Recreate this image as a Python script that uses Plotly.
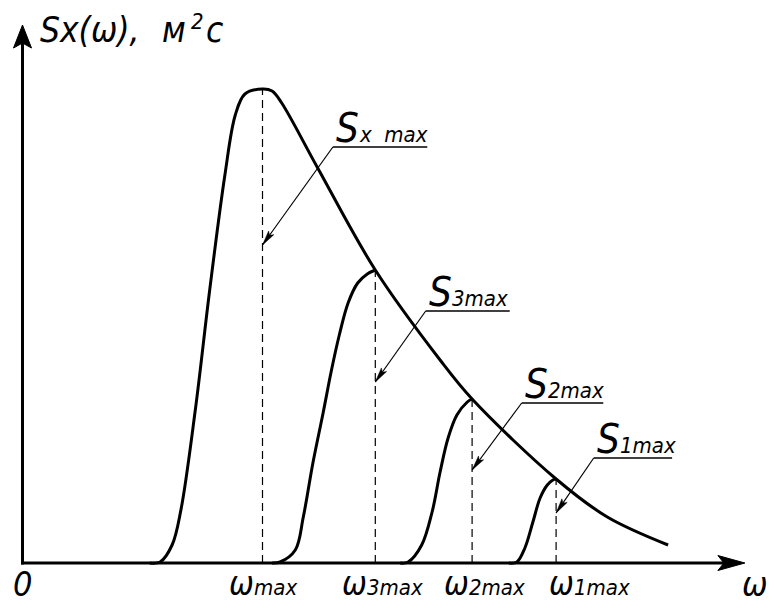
import math
import plotly.graph_objects as go

# Spectral density Sx(ω) of sea waves and its partial spectra S1..S3 (schematic units)
sx_rise_w = [1.59, 1.72, 1.87, 1.98, 2.16, 2.34, 2.53, 2.66, 2.78]
sx_rise_s = [0.00, 0.01, 0.18, 0.53, 1.53, 2.73, 3.88, 4.48, 4.69]

env_w = [3.00, 3.12, 3.24, 3.69, 4.41, 5.22, 5.62, 6.67, 7.31, 8.07]
env_s = [4.74, 4.72, 4.60, 3.95, 2.93, 2.03, 1.64, 0.84, 0.46, 0.18]

s3_w = [3.12, 3.22, 3.41, 3.51, 3.63, 3.76, 3.86, 3.96, 4.07, 4.19, 4.31, 4.41]
s3_s = [0.00, 0.01, 0.13, 0.46, 1.00, 1.51, 1.92, 2.28, 2.60, 2.80, 2.89, 2.93]

s2_w = [4.72, 4.82, 4.99, 5.12, 5.22, 5.32, 5.43, 5.56, 5.62]
s2_s = [0.00, 0.01, 0.18, 0.51, 0.91, 1.25, 1.48, 1.61, 1.64]

s1_w = [6.08, 6.18, 6.28, 6.38, 6.47, 6.56, 6.63, 6.67]
s1_s = [0.00, 0.01, 0.15, 0.41, 0.65, 0.78, 0.83, 0.84]

# peak frequencies / peak values: Sx max, S3max, S2max, S1max
peak_w = [3.00, 4.41, 5.62, 6.67]
peak_s = [4.74, 2.93, 1.64, 0.84]
peak_suffix = ["x  max", "3max", "2max", "1max"]
omega_suffix = ["max", "3max", "2max", "1max"]

# ordinate title pieces: quantity, unit, unit exponent, unit tail
y_title_main = "Sx(ω),"
y_title_unit = "м"
y_title_power = "2"
y_title_tail = "c"

# ---------------- layout / geometry ----------------
W, H = 770, 603
ORIGIN_PX = (22.5, 563.0)     # where ω = 0, S = 0 sits on the page
PX_W = 80.0                   # pixels per ω unit
PX_S = 100.0                  # pixels per S unit
X_RANGE = [-ORIGIN_PX[0] / PX_W, (W - ORIGIN_PX[0]) / PX_W]
Y_RANGE = [-(H - ORIGIN_PX[1]) / PX_S, ORIGIN_PX[1] / PX_S]

W_AXIS_END = 9.03
S_AXIS_END = 5.38

# leader labels: underline start, underline end, underline height, arrow tip height
lab_x0 = [3.88, 5.04, 6.24, 7.14]
lab_x1 = [5.06, 6.09, 7.26, 8.12]
lab_y = [4.16, 2.52, 1.60, 1.05]
tip_s = [3.18, 1.81, 0.93, 0.50]

# left edge of the ω tick labels and their baseline
omega_lab_x = [2.55, 3.97, 5.24, 6.56]
OMEGA_BASELINE = -0.31

# ordinate title placement (left edges in ω units, baselines in S units)
Y_TITLE_BASE = 5.20
Y_TITLE_X = [0.195, 1.72, 2.08, 2.27]
Y_TITLE_POWER_BASE = 5.33

FONT = "DejaVu Sans Condensed, DejaVu Sans, sans-serif"
INK = "#000000"
ASCENT = 0.928    # font ascent as a share of the font size
DESCENT = 0.236   # font descent as a share of the font size


def arrow_path(tx, ty, fx, fy, length, half, notch):
    """Filled, notched arrowhead at (tx, ty) pointing away from (fx, fy); sizes in px."""
    dxp = (tx - fx) * PX_W
    dyp = (ty - fy) * PX_S
    n = math.hypot(dxp, dyp)
    ux, uy = dxp / n, dyp / n
    nx, ny = -uy, ux
    pts = [
        (0.0, 0.0),
        (-ux * length + nx * half, -uy * length + ny * half),
        (-ux * (length - notch), -uy * (length - notch)),
        (-ux * length - nx * half, -uy * length - ny * half),
    ]
    coords = [(tx + a / PX_W, ty + b / PX_S) for a, b in pts]
    return "M " + " L ".join(f"{x:.4f},{y:.4f}" for x, y in coords) + " Z"


def text_on_baseline(x, baseline, text, size, hang=False):
    """Left-aligned italic text whose baseline sits at the given S value.

    With hang=True the box is anchored by its top edge, which keeps the anchor
    point inside the visible range for labels placed under the ω axis."""
    if hang:
        y, anchor = baseline + (1 + ASCENT * size) / PX_S, "top"
    else:
        y, anchor = baseline - (1 + DESCENT * size) / PX_S, "bottom"
    return dict(
        x=x, y=y, xref="x", yref="y",
        xanchor="left", yanchor=anchor, showarrow=False, text=text,
        font=dict(family=FONT, size=size, color=INK, style="italic"))


fig = go.Figure()

curve_style = dict(color=INK, width=3, shape="spline", smoothing=1.0)

# main spectrum with its envelope
fig.add_trace(go.Scatter(x=sx_rise_w + env_w, y=sx_rise_s + env_s, mode="lines",
                         line=curve_style, hoverinfo="skip"))
for ws, ss in [(s3_w, s3_s), (s2_w, s2_s), (s1_w, s1_s)]:
    fig.add_trace(go.Scatter(x=ws, y=ss, mode="lines", line=curve_style, hoverinfo="skip"))

shapes = []

# axes
shapes.append(dict(type="line", xref="x", yref="y", x0=-1.5 / PX_W, y0=0,
                   x1=W_AXIS_END - 20 / PX_W, y1=0, line=dict(color=INK, width=3)))
shapes.append(dict(type="line", xref="x", yref="y", x0=0, y0=-1.5 / PX_S,
                   x1=0, y1=S_AXIS_END - 18 / PX_S, line=dict(color=INK, width=3)))
shapes.append(dict(type="path", xref="x", yref="y",
                   path=arrow_path(W_AXIS_END, 0, 0, 0, 27, 7.5, 6),
                   fillcolor=INK, line=dict(color=INK, width=1)))
shapes.append(dict(type="path", xref="x", yref="y",
                   path=arrow_path(0, S_AXIS_END, 0, 0, 23, 9, 5),
                   fillcolor=INK, line=dict(color=INK, width=1)))

# dashed ordinates at the peak frequencies
for w, s in zip(peak_w, peak_s):
    shapes.append(dict(type="line", xref="x", yref="y", x0=w, y0=0, x1=w, y1=s,
                       line=dict(color=INK, width=1.2, dash="8px,5px")))

# leader lines with underlines and arrowheads
for w, x0, x1, y, ts in zip(peak_w, lab_x0, lab_x1, lab_y, tip_s):
    shapes.append(dict(type="line", xref="x", yref="y", x0=x0, y0=y, x1=x1, y1=y,
                       line=dict(color=INK, width=1.3)))
    shapes.append(dict(type="line", xref="x", yref="y", x0=x0, y0=y, x1=w, y1=ts,
                       line=dict(color=INK, width=1.2)))
    shapes.append(dict(type="path", xref="x", yref="y",
                       path=arrow_path(w, ts, x0, y, 15, 3.2, 3),
                       fillcolor=INK, line=dict(color=INK, width=0.5)))

annotations = []
# leader label texts: a large "S" followed by a smaller index
for x0, y, suf in zip(lab_x0, lab_y, peak_suffix):
    base = y + 4 / PX_S
    annotations.append(text_on_baseline(x0 + 1 / PX_W, base, "S", 40))
    annotations.append(text_on_baseline(x0 + 24 / PX_W, base, suf, 22))

# ω tick labels
for x, suf in zip(omega_lab_x, omega_suffix):
    annotations.append(text_on_baseline(x, OMEGA_BASELINE, "ω", 33, hang=True))
    annotations.append(text_on_baseline(x + 25 / PX_W, OMEGA_BASELINE, suf, 22, hang=True))

# ordinate title "Sx(ω), м²c"
annotations.append(text_on_baseline(Y_TITLE_X[0], Y_TITLE_BASE, y_title_main, 35))
annotations.append(text_on_baseline(Y_TITLE_X[1], Y_TITLE_BASE, y_title_unit, 35))
annotations.append(text_on_baseline(Y_TITLE_X[2], Y_TITLE_POWER_BASE, y_title_power, 22))
annotations.append(text_on_baseline(Y_TITLE_X[3], Y_TITLE_BASE, y_title_tail, 35))

# origin and abscissa title
annotations.append(dict(x=0.0, y=-0.21, xref="x", yref="y", xanchor="center", yanchor="middle",
                        showarrow=False, text="0",
                        font=dict(family=FONT, size=34, color=INK, style="italic")))
annotations.append(dict(x=8.97, y=-0.21, xref="x", yref="y", xanchor="left", yanchor="middle",
                        showarrow=False, text="ω",
                        font=dict(family=FONT, size=34, color=INK, style="italic")))

fig.update_layout(
    width=W, height=H,
    margin=dict(l=0, r=0, t=0, b=0),
    paper_bgcolor="white", plot_bgcolor="white",
    showlegend=False,
    xaxis=dict(range=X_RANGE, visible=False, fixedrange=True),
    yaxis=dict(range=Y_RANGE, visible=False, fixedrange=True),
    shapes=shapes,
    annotations=annotations,
)

fig.write_html("out.html")
